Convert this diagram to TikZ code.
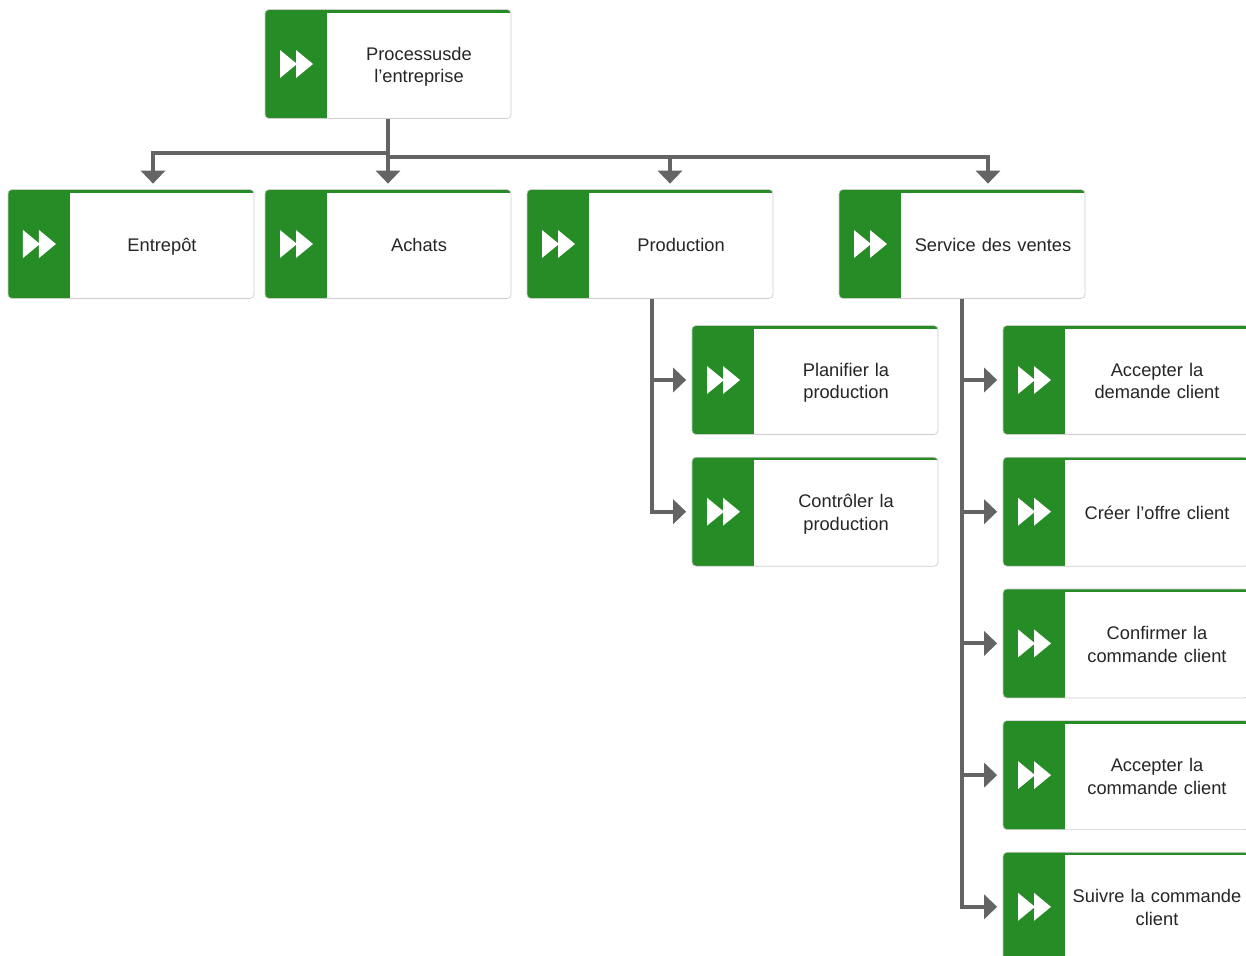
\documentclass[tikz,border=0pt]{standalone}
\usepackage{fontspec}
\setmainfont{Liberation Sans}
\usetikzlibrary{arrows.meta,positioning,calc}
\definecolor{procgreen}{RGB}{38,140,38}
\definecolor{conngray}{RGB}{100,100,100}
\definecolor{boxline}{RGB}{205,205,205}

\begin{document}
\begin{tikzpicture}[x=0.2mm, y=-0.2mm,
    procbox/.style={rectangle, rounded corners=0.8mm, draw=boxline, fill=white,
      minimum width=49.2mm, minimum height=21.8mm, inner sep=0,
      path picture={
        \path[fill=procgreen, draw=none, sharp corners] (path picture bounding box.north west) rectangle ($(path picture bounding box.south west)+(62,0)$);
        \path[fill=procgreen, draw=none, sharp corners] (path picture bounding box.north west) rectangle ($(path picture bounding box.north east)+(0,3)$);
        \path[fill=white, draw=none, sharp corners] ($(path picture bounding box.west)+(15,-14)$) -- ++(0,28) -- ++(17,-14) -- cycle;
        \path[fill=white, draw=none, sharp corners] ($(path picture bounding box.west)+(31,-14)$) -- ++(0,28) -- ++(17,-14) -- cycle;
      }},
    boxtext/.style={anchor=center, xshift=6.2mm, yshift=-0.6mm, text width=36.8mm, align=center,
      inner sep=0, font=\fontsize{10.4}{13}\selectfont, text=black!85,
      execute at begin node=\strut, execute at end node=\strut},
    conn/.style={draw=conngray, line width=0.8mm,
      -{Triangle[width=4.8mm,length=2.6mm]}, shorten >=1.1mm}]
    \useasboundingbox (0,0) rectangle (1246,955);

    % Top process
    \node[procbox, label={[boxtext]center:Processusde\\l'entreprise}] (proc) at (388,64) {};

    % Second level
    \node[procbox, label={[boxtext]center:Entrepôt}] (entrepot) at (131,244) {};
    \node[procbox, label={[boxtext]center:Achats}] (achats) at (388,244) {};
    \node[procbox, label={[boxtext]center:Production}] (production) at (650,244) {};
    \node[procbox, label={[boxtext]center:Service des ventes}] (ventes) at (962,244) {};

    % Production steps
    \node[procbox, label={[boxtext]center:Planifier la\\production}] (planif) at (815,380) {};
    \node[procbox, below=4.4mm of planif, label={[boxtext]center:Contrôler la\\production}] (controle) {};

    % Sales steps
    \node[procbox, label={[boxtext]center:Accepter la\\demande client}] (accdem) at (1126,380) {};
    \node[procbox, below=4.4mm of accdem, label={[boxtext]center:Créer l'offre client}] (creer) {};
    \node[procbox, below=4.4mm of creer, label={[boxtext]center:Confirmer la\\commande client}] (confcmd) {};
    \node[procbox, below=4.4mm of confcmd, label={[boxtext]center:Accepter la\\commande client}] (acccmd) {};
    \node[procbox, below=4.4mm of acccmd, label={[boxtext]center:Suivre la commande\\client}] (suivre) {};

    % Connectors
    \draw[conn] (proc.south) -- (achats.north);
    \draw[conn] ($(proc.south)+(0,34)$) -| ($(entrepot.north)+(22,0)$);
    \draw[conn] ($(proc.south)+(0,38)$) -| ($(production.north)+(20,0)$);
    \draw[conn] ($(proc.south)+(0,38)$) -| ($(ventes.north)+(26,0)$);

    \foreach \n in {planif,controle}
        \draw[conn] ($(production.south)+(2,0)$) |- (\n.west);
    \foreach \n in {accdem,creer,confcmd,acccmd,suivre}
        \draw[conn] (ventes.south) |- (\n.west);
\end{tikzpicture}
\end{document}
